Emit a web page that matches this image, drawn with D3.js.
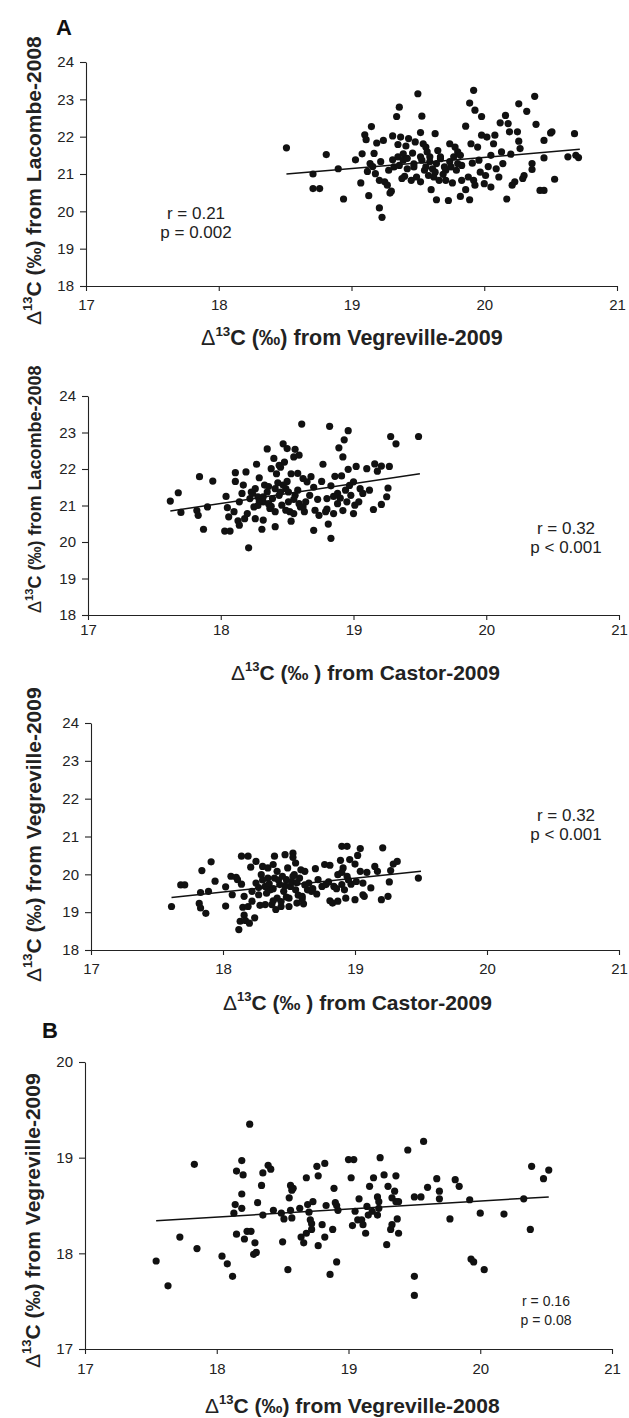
<!DOCTYPE html>
<html>
<head>
<meta charset="utf-8">
<script src="https://cdnjs.cloudflare.com/ajax/libs/d3/7.8.5/d3.min.js"></script>
<style>
    body { margin: 0; background: #fff; }
    svg { font-family: Arial, "Liberation Sans", Helvetica, sans-serif; }
</style>
</head>
<body>
<div id="chart"></div>
<script>

// ---------------- data ----------------
// panel A1: x = Vegreville-2009, y = Lacombe-2008
let vegre09VsLacombe08 = [
    [18.51,21.70],[18.71,21.00],[18.71,20.61],[18.76,20.61],[18.81,21.52],[18.90,21.14],[18.94,20.33],[19.03,21.38],
    [19.07,20.76],[19.08,21.54],[19.10,22.05],[19.11,21.92],[19.13,20.42],[19.14,21.28],[19.15,22.27],[19.12,21.07],
    [19.17,21.55],[19.19,21.83],[19.18,21.01],[19.21,20.09],[19.23,19.84],[19.24,21.90],[19.21,20.83],[19.25,20.79],
    [19.27,20.70],[19.29,20.49],[19.30,20.54],[19.31,22.02],[19.31,21.38],[19.32,21.19],[19.34,22.54],[19.36,22.79],
    [19.35,21.79],[19.37,21.99],[19.36,21.23],[19.39,21.54],[19.40,20.94],[19.41,21.75],[19.42,21.14],[19.43,21.95],
    [19.45,20.83],[19.46,21.56],[19.47,21.27],[19.48,21.86],[19.50,23.15],[19.52,22.11],[19.52,21.46],[19.52,20.79],
    [19.53,22.55],[19.54,21.81],[19.55,21.10],[19.56,21.72],[19.57,21.59],[19.59,21.46],[19.60,20.58],[19.61,21.14],
    [19.62,20.92],[19.63,22.08],[19.64,20.31],[19.65,21.63],[19.66,20.83],[19.67,21.41],[19.70,21.19],[19.71,20.83],
    [19.73,20.29],[19.74,21.33],[19.74,21.81],[19.76,20.76],[19.77,21.46],[19.78,21.72],[19.79,21.10],[19.80,21.28],
    [19.82,20.40],[19.83,20.83],[19.89,22.90],[19.92,23.24],[19.86,22.28],[19.86,20.58],[19.88,20.92],[19.89,20.31],
    [19.90,21.81],[19.91,21.29],[19.92,20.83],[19.93,22.71],[19.95,21.72],[19.96,21.37],[19.98,22.54],[19.98,22.04],
    [20.00,20.74],[20.01,20.96],[20.02,21.99],[20.05,21.50],[20.05,20.65],[20.07,21.81],[20.08,22.04],[20.09,21.14],
    [20.11,20.92],[20.12,22.37],[20.13,21.59],[20.14,21.28],[20.16,22.57],[20.17,20.33],[20.18,22.35],[20.19,22.13],
    [20.20,21.53],[20.21,20.70],[20.23,20.79],[20.25,22.13],[20.26,22.88],[20.26,21.88],[20.27,21.68],[20.29,20.88],
    [20.30,20.96],[20.32,22.68],[20.36,21.28],[20.36,21.12],[20.38,23.08],[20.39,22.33],[20.42,20.56],[20.45,20.56],
    [20.45,21.90],[20.45,21.43],[20.50,22.10],[20.51,22.13],[20.53,20.86],[20.63,21.46],[20.68,22.08],[20.69,21.50],
    [20.71,21.44],[19.35,21.46],[19.39,21.37],[19.42,21.42],[19.47,21.19],[19.53,21.37],[19.59,21.33],[19.64,21.28],
    [19.67,21.46],[19.71,21.10],[19.75,21.19],[19.80,21.59],[19.82,21.50],[19.83,21.23],[19.56,21.19],[19.63,21.05],
    [19.38,20.88],[19.49,20.92],[19.58,20.96],[19.69,20.99],[19.28,21.10],[19.16,21.20],[19.97,21.05],[20.03,21.20],
    [19.93,20.70],[19.22,21.33]
];
let fitA1 = [[18.51,21.00],[20.72,21.66]];

// panel A2: x = Castor-2009, y = Lacombe-2008
let castor09VsLacombe08 = [
    [17.62,21.12],[17.68,21.35],[17.70,20.81],[17.82,20.86],[17.83,20.73],[17.84,21.79],[17.87,20.35],[17.90,20.96],
    [17.94,21.67],[18.03,20.30],[18.07,20.30],[18.04,21.25],[18.05,20.94],[18.06,20.69],[18.10,20.83],[18.11,21.90],
    [18.11,21.66],[18.13,20.58],[18.14,20.46],[18.14,21.10],[18.16,21.33],[18.17,21.56],[18.18,20.64],[18.19,21.92],
    [18.20,20.78],[18.21,19.84],[18.22,21.19],[18.23,21.37],[18.25,20.96],[18.26,20.64],[18.26,21.46],[18.27,22.13],
    [18.28,21.24],[18.29,21.76],[18.31,20.35],[18.32,20.60],[18.32,21.10],[18.33,21.56],[18.35,21.37],[18.35,22.55],
    [18.37,20.92],[18.38,22.01],[18.39,21.19],[18.40,22.29],[18.41,21.46],[18.41,20.42],[18.42,21.87],[18.44,21.28],
    [18.44,22.10],[18.46,21.01],[18.47,22.69],[18.48,22.19],[18.49,21.46],[18.50,21.66],[18.50,22.56],[18.51,21.10],
    [18.52,20.83],[18.53,20.57],[18.53,21.87],[18.55,22.33],[18.56,22.54],[18.56,21.28],[18.58,21.42],[18.59,22.38],
    [18.60,20.96],[18.61,23.23],[18.62,21.74],[18.63,20.83],[18.64,21.10],[18.65,21.65],[18.67,21.28],[18.68,21.79],
    [18.70,20.32],[18.71,20.87],[18.73,21.17],[18.74,20.73],[18.76,21.66],[18.77,22.13],[18.79,20.83],[18.80,21.19],
    [18.81,20.49],[18.82,23.17],[18.83,21.54],[18.83,20.10],[18.85,20.78],[18.86,21.80],[18.88,21.33],[18.89,22.58],
    [18.91,21.81],[18.92,20.86],[18.92,22.33],[18.93,22.80],[18.94,21.42],[18.95,21.10],[18.96,23.05],[18.96,21.99],
    [18.98,21.28],[19.00,21.65],[19.00,20.78],[19.01,21.01],[19.02,22.07],[19.04,21.10],[19.05,21.46],[19.07,21.33],
    [19.10,22.01],[19.12,21.42],[19.15,20.89],[19.16,22.14],[19.18,21.94],[19.21,22.08],[19.21,21.03],[19.25,21.24],
    [19.26,21.48],[19.27,22.07],[19.28,22.89],[19.32,22.69],[19.49,22.89],[18.24,21.33],[18.29,21.12],[18.32,21.24],
    [18.36,21.05],[18.38,20.98],[18.45,21.37],[18.47,21.56],[18.51,21.37],[18.55,21.17],[18.59,21.05],[18.62,20.96],
    [18.55,20.78],[18.49,20.87],[18.41,20.83],[18.58,21.88],[18.45,22.05],[18.36,21.52],[18.70,21.50],[18.88,21.05],
    [18.90,21.20],[18.85,21.25],[18.97,21.55],[18.80,20.90],[18.43,21.62],[18.28,21.00]
];
let fitA2 = [[17.62,20.85],[19.50,21.87]];

// panel A3: x = Castor-2009, y = Vegreville-2009
let castor09VsVegre09 = [
    [17.61,19.15],[17.68,19.72],[17.71,19.72],[17.83,19.52],[17.84,20.10],[17.82,19.23],[17.83,19.11],[17.87,18.97],
    [17.89,19.55],[17.91,20.33],[17.94,19.82],[18.02,19.16],[18.02,19.67],[18.06,19.95],[18.07,19.46],[18.10,19.92],
    [18.11,19.86],[18.12,18.54],[18.13,18.76],[18.14,20.48],[18.19,20.48],[18.14,19.74],[18.15,19.13],[18.16,18.92],
    [18.17,18.78],[18.16,19.42],[18.19,19.15],[18.20,18.71],[18.21,20.19],[18.22,19.55],[18.22,19.29],[18.24,18.85],
    [18.25,20.34],[18.25,19.77],[18.27,19.46],[18.28,19.18],[18.29,19.99],[18.30,20.21],[18.32,19.20],[18.32,19.68],
    [18.34,19.90],[18.34,20.17],[18.36,19.59],[18.37,19.20],[18.38,20.26],[18.39,20.48],[18.39,19.90],[18.40,19.07],
    [18.41,19.37],[18.41,20.08],[18.43,19.73],[18.44,19.15],[18.46,19.55],[18.47,20.52],[18.48,19.86],[18.49,20.17],
    [18.50,19.15],[18.50,19.37],[18.51,19.68],[18.53,20.56],[18.53,20.45],[18.54,19.99],[18.55,20.30],[18.55,19.59],
    [18.56,19.24],[18.58,19.90],[18.59,20.12],[18.60,19.42],[18.61,19.22],[18.62,20.08],[18.64,19.59],[18.65,19.77],
    [18.67,19.55],[18.70,20.15],[18.71,19.48],[18.72,19.86],[18.75,19.68],[18.77,20.26],[18.78,19.73],[18.81,20.24],
    [18.81,19.30],[18.83,19.24],[18.84,19.68],[18.87,19.29],[18.87,19.99],[18.89,20.37],[18.90,19.73],[18.90,20.74],
    [18.94,20.74],[18.91,20.17],[18.92,19.59],[18.93,19.37],[18.94,19.95],[18.96,20.39],[18.97,19.74],[19.00,20.27],
    [19.00,19.33],[19.01,19.81],[19.02,20.50],[19.04,20.68],[19.04,20.08],[19.06,19.46],[19.07,19.42],[19.06,19.77],
    [19.09,20.05],[19.12,19.64],[19.15,20.21],[19.17,20.08],[19.20,19.33],[19.21,20.70],[19.25,19.42],[19.26,19.80],
    [19.27,20.10],[19.29,20.27],[19.32,20.34],[19.48,19.90],[18.35,19.75],[18.38,19.62],[18.42,19.85],[18.45,19.95],
    [18.47,19.70],[18.52,19.80],[18.56,19.78],[18.57,19.45],[18.48,19.40],[18.33,19.50],[18.38,19.30],[18.44,19.28],
    [18.27,19.65],[18.62,19.72],[18.68,19.62],[18.80,19.80],[18.86,19.62],[18.95,19.85],[18.90,20.05],[18.60,19.35],
    [18.53,19.95],[18.30,19.85]
];
let fitA3 = [[17.61,19.39],[19.50,20.08]];

// panel B: x = Vegreville-2008, y = Vegreville-2009
let vegre08VsVegre09 = [
    [17.54,17.92],[17.63,17.66],[17.72,18.17],[17.83,18.93],[17.85,18.05],[18.04,17.97],[18.08,17.89],[18.12,17.76],
    [18.13,18.42],[18.14,18.51],[18.15,18.86],[18.15,18.20],[18.19,18.47],[18.19,18.62],[18.19,18.97],[18.20,18.82],
    [18.21,18.15],[18.23,18.23],[18.26,18.23],[18.25,19.35],[18.28,17.99],[18.30,18.01],[18.29,18.11],[18.31,18.53],
    [18.34,18.71],[18.35,18.40],[18.35,18.84],[18.39,18.92],[18.41,18.88],[18.43,18.45],[18.49,18.42],[18.50,18.12],
    [18.51,18.36],[18.54,17.83],[18.55,18.58],[18.56,18.71],[18.57,18.66],[18.58,18.68],[18.56,18.45],[18.57,18.37],
    [18.63,18.47],[18.64,18.17],[18.66,18.11],[18.68,18.21],[18.68,18.79],[18.69,18.51],[18.70,18.43],[18.71,18.35],
    [18.72,18.31],[18.72,18.25],[18.73,18.54],[18.76,18.91],[18.77,18.81],[18.77,18.08],[18.80,18.30],[18.82,18.94],
    [18.82,18.17],[18.83,18.50],[18.86,17.78],[18.88,18.25],[18.89,18.68],[18.90,18.53],[18.91,18.50],[18.91,17.91],
    [18.92,18.45],[19.00,18.98],[19.04,18.98],[19.02,18.79],[19.03,18.29],[19.05,18.44],[19.07,18.35],[19.08,18.57],
    [19.10,18.35],[19.11,18.30],[19.13,18.21],[19.14,18.49],[19.15,18.40],[19.16,18.70],[19.18,18.44],[19.19,18.79],
    [19.22,18.59],[19.23,18.54],[19.22,18.40],[19.23,18.47],[19.24,19.00],[19.27,18.82],[19.29,18.09],[19.30,18.70],
    [19.32,18.25],[19.33,18.30],[19.33,18.58],[19.35,18.65],[19.36,18.81],[19.36,18.54],[19.37,18.36],[19.38,18.21],
    [19.38,18.54],[19.45,19.08],[19.50,18.59],[19.55,18.59],[19.50,17.76],[19.50,17.56],[19.57,19.17],[19.60,18.69],
    [19.67,18.78],[19.69,18.65],[19.69,18.57],[19.77,18.36],[19.81,18.77],[19.84,18.70],[19.92,18.56],[19.93,17.94],
    [19.95,17.91],[20.00,18.42],[20.03,17.83],[20.18,18.41],[20.33,18.57],[20.38,18.25],[20.39,18.91],[20.48,18.78],
    [20.52,18.87]
];
let fitB = [[17.54,18.34],[20.52,18.59]];

// tick values
let xTicks = [17, 18, 19, 20, 21];
let yTicksA = [18, 19, 20, 21, 22, 23, 24];
let yTicksB = [17, 18, 19, 20];

// annotation texts
let statsA1 = ["r = 0.21", "p = 0.002"];
let statsA2 = ["r = 0.32", "p < 0.001"];
let statsA3 = ["r = 0.32", "p < 0.001"];
let statsB  = ["r = 0.16", "p = 0.08"];


/* * * * * * * * * * * * * *
*        ScatterVis        *
* * * * * * * * * * * * * */
class ScatterVis {

    constructor(svg, points, fit, stats, cfg) {
        this.svg = svg;
        this.points = points;
        this.fit = fit;
        this.stats = stats;
        this.cfg = cfg;
        this.initVis();
    }

    initVis() {
        let vis = this;
        let c = vis.cfg;

        vis.x = d3.scaleLinear().domain([17, 21]).range([c.left, c.right]);
        vis.y = d3.scaleLinear().domain(c.yDomain).range([c.bottom, c.top]);

        vis.g = vis.svg.append("g");

        // axes
        let yAxis = d3.axisLeft(vis.y)
            .tickValues(c.yTicks)
            .tickSize(6)
            .tickSizeOuter(0)
            .tickPadding(6)
            .tickFormat(d3.format("d"));
        let xAxis = d3.axisBottom(vis.x)
            .tickValues(xTicks)
            .tickSize(5)
            .tickSizeOuter(0)
            .tickPadding(c.xPad)
            .tickFormat(d3.format("d"));

        vis.g.append("g")
            .attr("transform", `translate(${c.left},0)`)
            .call(yAxis);
        vis.g.append("g")
            .attr("transform", `translate(0,${c.bottom})`)
            .call(xAxis);

        vis.g.selectAll(".domain, .tick line")
            .attr("stroke", "#222")
            .attr("stroke-width", 1.1);
        vis.g.selectAll(".tick text")
            .attr("fill", "#222")
            .attr("font-size", 15)
            .attr("font-family", "Arial, 'Liberation Sans', sans-serif");

        // points
        vis.g.append("g").selectAll("circle")
            .data(vis.points)
            .enter()
            .append("circle")
            .attr("cx", d => vis.x(d[0]))
            .attr("cy", d => vis.y(d[1]))
            .attr("r", 3.6)
            .attr("fill", "#111");

        // regression line
        vis.g.append("path")
            .datum(vis.fit)
            .attr("fill", "none")
            .attr("stroke", "#111")
            .attr("stroke-width", 1.5)
            .attr("d", d3.line().x(d => vis.x(d[0])).y(d => vis.y(d[1])));

        // stats text
        vis.g.selectAll(".stat")
            .data(vis.stats)
            .enter()
            .append("text")
            .attr("class", "stat")
            .attr("x", c.statX)
            .attr("y", (d, i) => c.statY + i * c.statGap)
            .attr("text-anchor", "middle")
            .attr("font-size", c.statSize)
            .attr("fill", "#222")
            .text(d => d);

        // x title
        let xt = vis.g.append("text")
            .attr("x", c.xTitleX)
            .attr("y", c.xTitleY)
            .attr("font-size", c.xTitleSize)
            .attr("font-weight", "bold")
            .attr("fill", "#222");
        vis.deltaLabel(xt, c.xTitle, c.xTitleSize);

        // y title
        let yt = vis.g.append("text")
            .attr("transform", `translate(${c.yTitleX},${c.yTitleBottom}) rotate(-90)`)
            .attr("font-size", c.yTitleSize)
            .attr("font-weight", "bold")
            .attr("fill", "#222");
        vis.deltaLabel(yt, c.yTitle, c.yTitleSize);
    }

    // Δ with superscript 13 followed by the rest of the label
    deltaLabel(sel, rest, size) {
        sel.append("tspan").attr("font-weight", "normal").text("Δ");
        sel.append("tspan").attr("font-size", size * 0.62).attr("dy", -size * 0.42).text("13");
        sel.append("tspan").attr("dy", size * 0.42).text(rest);
    }
}

let svg = d3.select("#chart").append("svg")
    .attr("width", 629)
    .attr("height", 1418);

svg.append("text").attr("x", 56).attr("y", 35)
    .attr("font-size", 22).attr("font-weight", "bold").attr("fill", "#111").text("A");
svg.append("text").attr("x", 42).attr("y", 1038)
    .attr("font-size", 22).attr("font-weight", "bold").attr("fill", "#111").text("B");

new ScatterVis(svg, vegre09VsLacombe08, fitA1, statsA1, {
    left: 86, right: 617, top: 62, bottom: 286, yDomain: [18, 24], yTicks: yTicksA, xPad: 8,
    statX: 196, statY: 219, statGap: 19, statSize: 17,
    xTitle: "C (‰) from Vegreville-2009", xTitleX: 201, xTitleY: 345, xTitleSize: 21.5,
    yTitle: "C (‰) from Lacombe-2008", yTitleX: 41, yTitleBottom: 325, yTitleSize: 21
});

new ScatterVis(svg, castor09VsLacombe08, fitA2, statsA2, {
    left: 88, right: 619, top: 396, bottom: 615, yDomain: [18, 24], yTicks: yTicksA, xPad: 4,
    statX: 566, statY: 534, statGap: 19, statSize: 17,
    xTitle: "C (‰ ) from Castor-2009", xTitleX: 231, xTitleY: 680, xTitleSize: 21,
    yTitle: "C (‰) from Lacombe-2008", yTitleX: 41, yTitleBottom: 613, yTitleSize: 18
});

new ScatterVis(svg, castor09VsVegre09, fitA3, statsA3, {
    left: 91, right: 619, top: 723, bottom: 950, yDomain: [18, 24], yTicks: yTicksA, xPad: 8,
    statX: 566, statY: 821, statGap: 19, statSize: 17,
    xTitle: "C (‰ ) from Castor-2009", xTitleX: 223, xTitleY: 1010, xTitleSize: 21,
    yTitle: "C (‰) from Vegreville-2009", yTitleX: 41, yTitleBottom: 982, yTitleSize: 21
});

new ScatterVis(svg, vegre08VsVegre09, fitB, statsB, {
    left: 85, right: 612, top: 1062, bottom: 1349, yDomain: [17, 20], yTicks: yTicksB, xPad: 9,
    statX: 546, statY: 1306, statGap: 19, statSize: 14,
    xTitle: "C (‰) from Vegreville-2008", xTitleX: 205, xTitleY: 1413, xTitleSize: 21,
    yTitle: "C (‰) from Vegreville-2009", yTitleX: 40, yTitleBottom: 1368, yTitleSize: 21
});

</script>
</body>
</html>
